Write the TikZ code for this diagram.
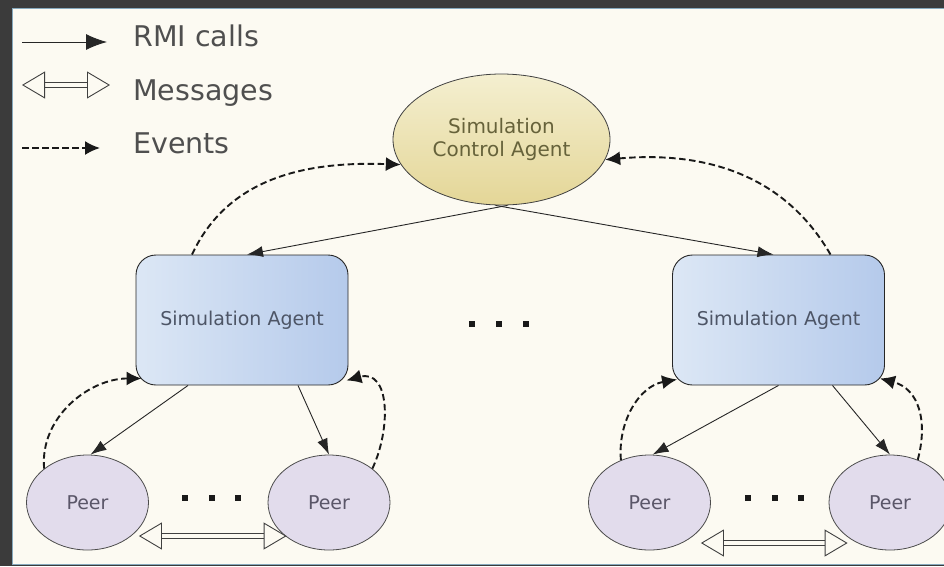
\documentclass[tikz,border=0pt]{standalone}
\usepackage{fontspec}
\setmainfont{DejaVu Sans}
\usetikzlibrary{arrows.meta,shapes.geometric,calc}
\definecolor{bgdark}{HTML}{3B3B3B}
\definecolor{panel}{HTML}{FCFAF2}
\definecolor{panelline}{HTML}{86A9BD}
\definecolor{legtxt}{HTML}{4F4F4F}
\definecolor{satxt}{HTML}{4D5566}
\definecolor{peertxt}{HTML}{5A5668}
\definecolor{ctrltxt}{HTML}{66623A}
\definecolor{peerfill}{HTML}{E2DCEC}
\definecolor{ctrltop}{HTML}{F4EFD0}
\definecolor{ctrlbot}{HTML}{E4D697}
\definecolor{saleft}{HTML}{DCE7F5}
\definecolor{saright}{HTML}{B5CAEB}
\begin{document}
\begin{tikzpicture}[x=1pt,y=1pt,
  ctrlnode/.style={ellipse, minimum width=217pt, minimum height=131pt, inner sep=0pt,
    top color=ctrltop, bottom color=ctrlbot, draw=black!75, line width=0.8pt,
    text=ctrltxt, align=center, font=\fontsize{20}{23}\selectfont},
  sanode/.style={rectangle, rounded corners=20pt, minimum width=212pt, minimum height=130pt,
    left color=saleft, right color=saright, draw=black!85, line width=0.9pt,
    text=satxt, font=\fontsize{19}{22}\selectfont},
  peernode/.style={ellipse, minimum width=122pt, minimum height=95pt, inner sep=0pt,
    fill=peerfill, draw=black!70, line width=0.8pt,
    text=peertxt, font=\fontsize{19}{22}\selectfont},
  legtext/.style={font=\fontsize{28.5}{32}\selectfont, text=legtxt, inner sep=0pt, anchor=base west},
  rmi/.style={draw=black!85, line width=0.9pt, -{Latex[length=16pt,width=11pt]}},
  rmileg/.style={draw=black!85, line width=0.9pt, -{Latex[length=21pt,width=16pt]}},
  evt/.style={draw=black!90, line width=1.9pt, dash pattern=on 6.5pt off 3.5pt,
    -{Latex[length=15pt,width=14pt]}},
  msg/.style={draw=black!75, line width=0.9pt, double=panel, double distance=4pt,
    {Triangle[fill=panel,length=23pt,width=27pt,line width=0.9pt]}-{Triangle[fill=panel,length=23pt,width=27pt,line width=0.9pt]}},
  dotmark/.style={fill=black!90}
]
\useasboundingbox (0,0) rectangle (944,-566);
\clip (0,0) rectangle (944,-566);
\fill[bgdark] (0,0) rectangle (944,-566);
\filldraw[fill=panel, draw=panelline, line width=1.5pt] (12.5,-8.5) rectangle (960,-564.5);

% legend
\coordinate (lr1) at (22,-42);
\coordinate (lr2) at (107,-42);
\draw[rmileg] (lr1) -- (lr2);
\node[legtext] (lt1) at (133,-46) {RMI calls};
\coordinate (lm1) at (22,-85);
\coordinate (lm2) at (110,-85);
\draw[msg] (lm1) -- (lm2);
\node[legtext] (lt2) at (133,-100) {Messages};
\coordinate (le1) at (22,-148);
\coordinate (le2) at (100,-148);
\draw[evt] (le1) -- (le2);
\node[legtext] (lt3) at (133,-153) {Events};

% nodes
\node[ctrlnode] (ctrl) at (501.5,-139.5) {Simulation\\Control Agent};
\node[sanode] (sa1) at (242,-320) {Simulation Agent};
\node[sanode] (sa2) at (778.5,-320) {Simulation Agent};
\node[peernode] (p1) at (87.5,-502.5) {Peer};
\node[peernode] (p2) at (329,-502.5) {Peer};
\node[peernode] (p3) at (649.5,-502.5) {Peer};
\node[peernode] (p4) at (890,-502.5) {Peer};

% ellipsis dots
\foreach \x/\y in {472/324,499/324,526/324,185/498,212/498,238/498,748/498,775/498,801/498}
  \fill[dotmark] (\x-3,-\y-3) rectangle (\x+3,-\y+3);

% RMI calls
\draw[rmi] ([xshift=6pt]ctrl.south) -- ([xshift=5pt]sa1.north);
\draw[rmi] ([xshift=-6pt]ctrl.south) -- ([xshift=-5pt]sa2.north);
\draw[rmi] ([xshift=-54pt]sa1.south) -- ([xshift=3pt]p1.north);
\draw[rmi] ([xshift=56pt]sa1.south) -- (p2.north);
\draw[rmi] (sa2.south) -- ([xshift=3pt]p3.north);
\draw[rmi] ([xshift=54pt]sa2.south) -- (p4.north);

% events
\draw[evt] (p1.142) to[out=95,in=180] ([xshift=6pt,yshift=7pt]sa1.south west);
\draw[evt] (p2.38) to[out=65,in=15,looseness=1.25] ([xshift=-2pt,yshift=5pt]sa1.south east);
\draw[evt] ([xshift=-50pt]sa1.north) to[out=65,in=178] (ctrl.194);
\draw[evt] ([xshift=52pt]sa2.north) to[out=120,in=5] (ctrl.-11.5);
\draw[evt] (p3.124) to[out=95,in=190] ([xshift=5pt,yshift=6pt]sa2.south west);
\draw[evt] (p4.57) to[out=75,in=-15,looseness=1.15] ([xshift=-5pt,yshift=7pt]sa2.south east);

% messages
\coordinate (m1a) at ($(p1.east)+(-10,-33.5)$);
\coordinate (m1b) at ($(p2.west)+(19,-33.5)$);
\draw[msg] (m1a) -- (m1b);
\coordinate (m2a) at ($(p3.east)+(-10,-40.5)$);
\coordinate (m2b) at ($(p4.west)+(19,-40.5)$);
\draw[msg] (m2a) -- (m2b);
\end{tikzpicture}
\end{document}
